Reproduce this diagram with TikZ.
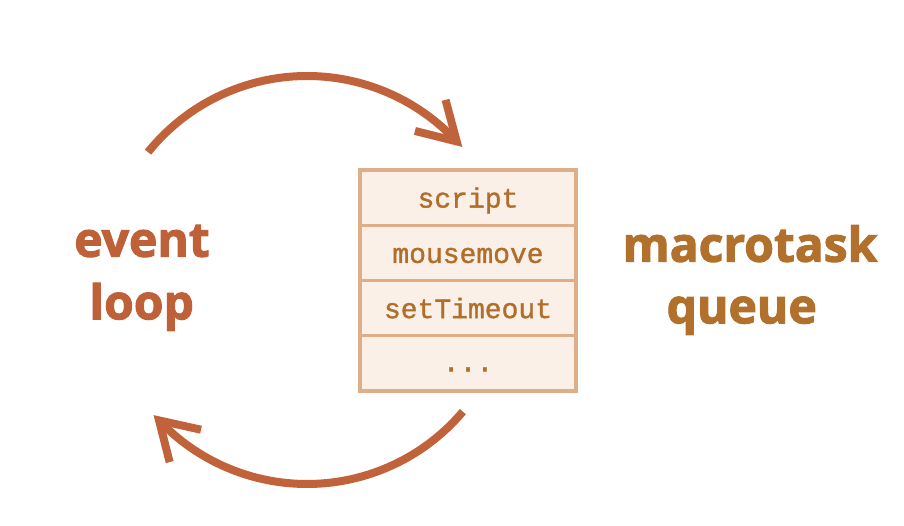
\documentclass[tikz,border=0pt]{standalone}
\usepackage{fontspec}
\usetikzlibrary{calc}
\newfontfamily\labfont{Open Sans}[BoldFeatures={FakeBold=2.2}]
\newfontfamily\codefont{Liberation Mono}[FakeBold=1.2]
\definecolor{arrowc}{HTML}{C0633A}
\definecolor{loopc}{HTML}{BF6138}
\definecolor{queuec}{HTML}{B1702B}
\definecolor{boxfill}{HTML}{FBF0E8}
\definecolor{boxdraw}{HTML}{DDAE88}
\definecolor{codec}{HTML}{B16E2B}
\tikzset{
  rowbox/.style={draw=boxdraw, fill=boxfill, line width=3.4pt, minimum width=216pt,
    minimum height=55.25pt, inner sep=0pt, text height=20pt, text depth=0pt,
    text=codec, font=\codefont\fontsize{28}{30}\selectfont},
  biglabel/.style={anchor=base, inner sep=0pt, font=\labfont\bfseries\fontsize{48}{58}\selectfont},
  arrowline/.style={draw=arrowc, line width=8pt, line cap=butt},
  arrowhead/.style={draw=arrowc, line width=8pt, line cap=butt, line join=miter, miter limit=10}
}
\begin{document}
\begin{tikzpicture}[x=1pt,y=1pt]
\useasboundingbox (0,0) rectangle (904,526);
% queue rows
\node[rowbox] (r1) at (468,328.4) {script};
\node[rowbox] (r2) at (468,273.1) {mousemove};
\node[rowbox] (r3) at (468,217.9) {setTimeout};
\node[rowbox, text height=16pt] (r4) at (468,162.6) {...};
% labels
\node[biglabel, text=loopc] (ev) at (142,269.3) {event};
\node[biglabel, text=loopc] (lp) at (141.7,206.7) {loop};
\node[biglabel, text=queuec] (mt) at (750,264.3) {macrotask};
\node[biglabel, text=queuec] (qu) at (741.7,202.7) {queue};
% circle centre
\coordinate (c) at (307,246);
% top arrow
\coordinate (ts) at ($(c)+(141.2:204)$);
\coordinate (tt) at ($(c)+(42.8:204)$);
\draw[arrowline] (ts) arc[start angle=141.2, end angle=42.8, radius=204];
\draw[arrowhead] ($(tt)+(105:43)$) -- (tt) -- ($(tt)+(166:43)$);
% bottom arrow
\coordinate (bs) at ($(c)+(-40.2:204)$);
\coordinate (bt) at ($(c)+(-136.5:204)$);
\draw[arrowline] (bs) arc[start angle=-40.2, end angle=-136.5, radius=204];
\draw[arrowhead] ($(bt)+(-12.5:43)$) -- (bt) -- ($(bt)+(-75.7:43)$);
\end{tikzpicture}
\end{document}
